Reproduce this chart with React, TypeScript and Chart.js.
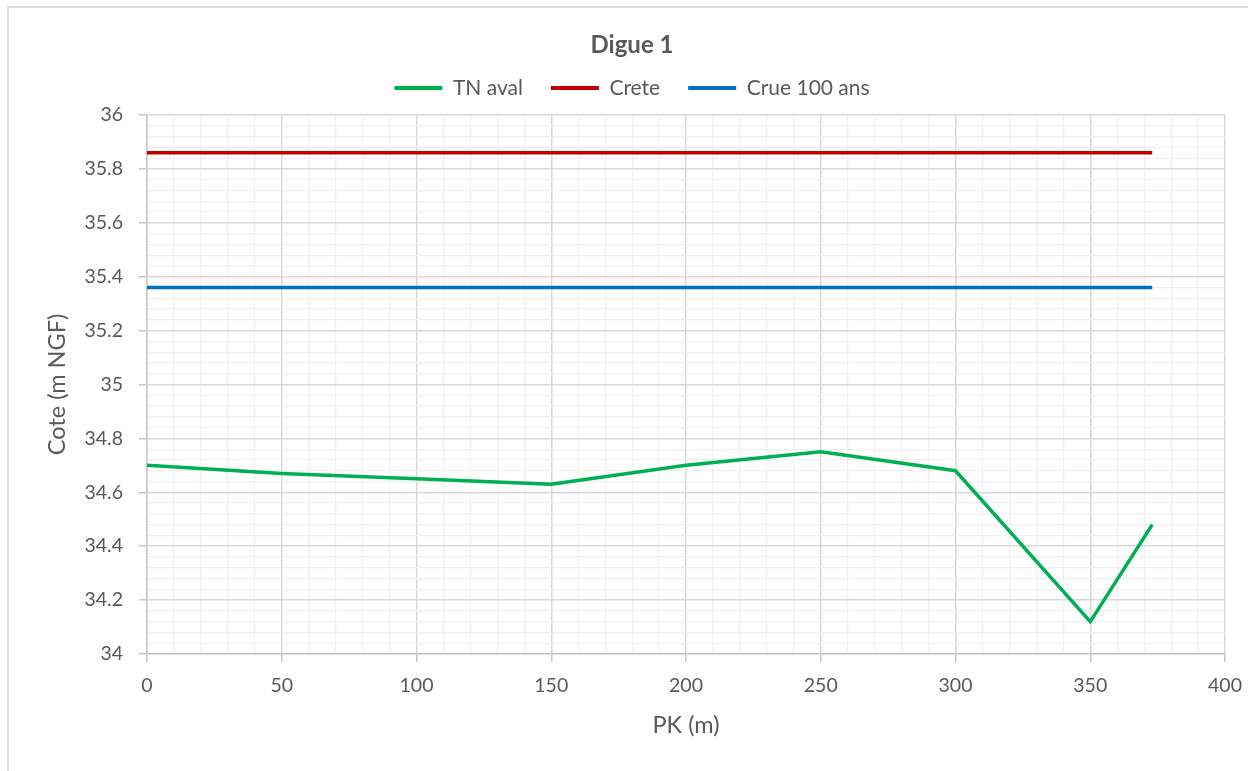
import React, { useEffect, useRef } from 'react';
import Chart from 'chart.js/auto';

const chartTitle = 'Digue 1';
const xTitle = 'PK (m)';
const yTitle = 'Cote (m NGF)';
const seriesNames = ['TN aval', 'Crete', 'Crue 100 ans'];
const seriesColors = ['#00B050', '#C00000', '#0070C0'];

const pk = [0, 50, 100, 150, 200, 250, 300, 350, 373];
const tnAval = [34.7, 34.67, 34.65, 34.63, 34.7, 34.75, 34.68, 34.12, 34.48];
const cretePk = [0, 373];
const crete = [35.86, 35.86];
const cruePk = [0, 373];
const crue100 = [35.36, 35.36];

const xMin = 0, xMax = 400, xMajor = 50, xMinor = 10;
const yMin = 34, yMax = 36, yMajor = 0.2, yMinor = 0.04;

const FONT = 'Lato, "Open Sans", sans-serif';
const TEXT = '#595959';

const isMajor = (v: number, step: number) => Math.abs(v / step - Math.round(v / step)) < 1e-6;

export default function App() {
  const ref = useRef<HTMLCanvasElement | null>(null);
  useEffect(() => {
    if (!ref.current) return;
    const toPts = (xs: number[], ys: number[]) => xs.map((x, i) => ({ x, y: ys[i] }));
    const chart = new Chart(ref.current, {
      type: 'line',
      data: {
        datasets: [
          { label: seriesNames[0], data: toPts(pk, tnAval), borderColor: seriesColors[0], backgroundColor: seriesColors[0], borderWidth: 3.5, pointRadius: 0, tension: 0 },
          { label: seriesNames[1], data: toPts(cretePk, crete), borderColor: seriesColors[1], backgroundColor: seriesColors[1], borderWidth: 3.5, pointRadius: 0, tension: 0 },
          { label: seriesNames[2], data: toPts(cruePk, crue100), borderColor: seriesColors[2], backgroundColor: seriesColors[2], borderWidth: 3.5, pointRadius: 0, tension: 0 },
        ],
      },
      options: {
        animation: false,
        responsive: false,
        maintainAspectRatio: false,
        layout: { padding: { left: 30, right: 23, top: 0, bottom: 0 } },
        plugins: {
          title: {
            display: true,
            text: chartTitle,
            color: TEXT,
            weight: 2000,
            font: { family: FONT, size: 24, weight: 'bold' },
            padding: { top: 22.6, bottom: -9.9 },
          },
          subtitle: {
            display: true,
            text: '',
            weight: 500,
            font: { family: FONT, size: 1 },
            padding: { top: 5.3, bottom: 0 },
          },
          legend: {
            display: true,
            position: 'top',
            weight: 1000,
            labels: {
              color: TEXT,
              font: { family: FONT, size: 21 },
              boxWidth: 48,
              boxHeight: 4,
              padding: 28,
              generateLabels: (c: any) =>
                Chart.defaults.plugins.legend.labels.generateLabels(c).map((l: any) => ({ ...l, lineWidth: 0 })),
            },
          },
          tooltip: { enabled: false },
        },
        scales: {
          x: {
            type: 'linear',
            min: xMin,
            max: xMax,
            afterFit: (s: any) => { s.height = 117; s.paddingLeft = 0; s.paddingRight = 0; },
            ticks: {
              stepSize: xMinor,
              autoSkip: false,
              maxRotation: 0,
              color: TEXT,
              font: { family: FONT, size: 19.5 },
              padding: 12,
              callback: (v: any) => (isMajor(Number(v), xMajor) ? String(Math.round(Number(v))) : ''),
            },
            grid: {
              color: (ctx: any) => (isMajor(ctx.tick.value, xMajor) ? '#D9D9D9' : '#EFEFEF'),
              tickColor: (ctx: any) => (isMajor(ctx.tick.value, xMajor) ? '#C8C8C8' : 'rgba(0,0,0,0)'),
              lineWidth: (ctx: any) => (isMajor(ctx.tick.value, xMajor) ? 1.5 : 1.2),
              tickLength: 8,
            },
            border: { color: '#C8C8C8', width: 1.5 },
            title: {
              display: true,
              text: xTitle,
              color: TEXT,
              font: { family: FONT, size: 23.5 },
              padding: { top: 0, bottom: 31 },
            },
          },
          y: {
            type: 'linear',
            min: yMin,
            max: yMax,
            afterFit: (s: any) => { s.width = 108; s.paddingTop = 0; s.paddingBottom = 0; },
            ticks: {
              stepSize: yMinor,
              autoSkip: false,
              maxTicksLimit: 200,
              color: TEXT,
              font: { family: FONT, size: 19.5 },
              padding: 16,
              callback: (v: any) => (isMajor(Number(v), yMajor) ? String(Math.round(Number(v) * 10) / 10) : ''),
            },
            grid: {
              color: (ctx: any) => (isMajor(ctx.tick.value, yMajor) ? '#D9D9D9' : '#EFEFEF'),
              tickColor: (ctx: any) => (isMajor(ctx.tick.value, yMajor) ? '#C8C8C8' : 'rgba(0,0,0,0)'),
              lineWidth: (ctx: any) => (isMajor(ctx.tick.value, yMajor) ? 1.5 : 1.2),
              tickLength: 8,
            },
            border: { color: '#C8C8C8', width: 1.5 },
            title: {
              display: true,
              text: yTitle,
              color: TEXT,
              font: { family: FONT, size: 23.5 },
              padding: { top: 4.4, bottom: 0 },
            },
          },
        },
      },
    } as any);
    return () => chart.destroy();
  }, []);

  return (
    <div
      style={{
        position: 'absolute',
        left: 7,
        top: 6,
        width: 1239,
        height: 763,
        borderTop: '2px solid #DDDDDD',
        borderLeft: '2px solid #DDDDDD',
        background: '#FFFFFF',
      }}
    >
      <canvas ref={ref} width={1239} height={763} style={{ display: 'block' }} />
    </div>
  );
}
